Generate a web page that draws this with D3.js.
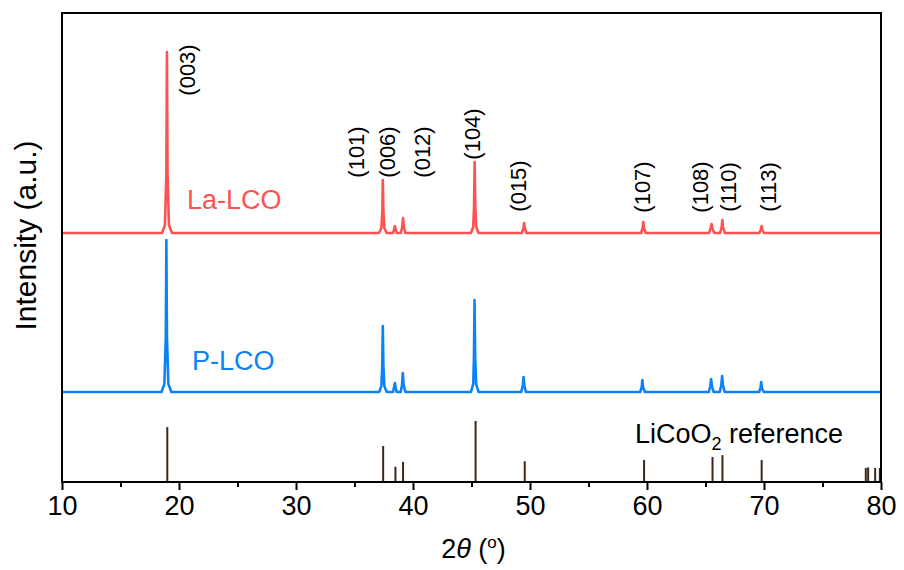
<!DOCTYPE html>
<html>
<head>
<meta charset="utf-8">
<script src="https://cdn.jsdelivr.net/npm/d3@7"></script>
<style>
  html, body { margin: 0; padding: 0; background: #fff; }
  svg { display: block; font-family: "Liberation Sans", Arial, sans-serif; }
</style>
</head>
<body>
<svg id="chart" width="904" height="570"></svg>
<script>
// X-ray diffraction patterns: [2θ (deg), intensity above the pattern's own baseline]
const laLCO = [
  [10,0],
  [18.55,0],[18.8,8],[18.92,60],[18.97,181],[19.02,60],[19.14,8],[19.4,0],
  [37.1,0],[37.3,5],[37.38,22],[37.42,53],[37.47,22],[37.55,5],[37.75,0],
  [38.3,0],[38.45,7],[38.6,0],
  [38.95,0],[39.08,6],[39.15,15],[39.22,6],[39.35,0],
  [44.95,0],[45.15,6],[45.22,28],[45.27,71],[45.32,28],[45.4,6],[45.6,0],
  [49.3,0],[49.45,5],[49.5,10],[49.56,5],[49.7,0],
  [59.5,0],[59.63,5],[59.68,11],[59.74,5],[59.9,0],
  [65.3,0],[65.45,5],[65.52,9],[65.6,4],[65.75,0],
  [66.25,0],[66.38,6],[66.44,13],[66.5,6],[66.65,0],
  [69.6,0],[69.75,4],[69.8,7],[69.86,3],[70.0,0],
  [80,0]
];
const pLCO = [
  [10,0],
  [18.5,0],[18.75,8],[18.87,55],[18.92,152],[18.97,55],[19.09,8],[19.35,0],
  [37.1,0],[37.3,6],[37.37,26],[37.42,66],[37.47,26],[37.55,6],[37.75,0],
  [38.3,0],[38.45,9],[38.6,0],
  [38.95,0],[39.06,7],[39.13,19],[39.2,7],[39.35,0],
  [44.95,0],[45.15,8],[45.21,36],[45.26,92],[45.31,36],[45.4,8],[45.6,0],
  [49.25,0],[49.38,6],[49.45,15],[49.52,6],[49.65,0],
  [59.42,0],[59.55,5],[59.6,12],[59.66,5],[59.82,0],
  [65.28,0],[65.41,6],[65.48,13],[65.56,5],[65.7,0],
  [66.22,0],[66.35,7],[66.42,16],[66.49,7],[66.64,0],
  [69.58,0],[69.7,4],[69.76,10],[69.82,4],[69.98,0],
  [80,0]
];

// LiCoO2 reference pattern: [2θ (deg), relative intensity]
const refPeaks = [
  [19.0,90],[37.45,59],[38.5,25],[39.15,33],[45.35,100],[49.55,34],
  [59.75,36],[65.6,41],[66.45,44],[69.8,36],
  [78.7,23],[78.9,24],[79.5,23],[79.9,23]
];

// Miller index labels: [text, 2θ position of label, label height in a.u.]
const hklLabels = [
  ["(003)", 20.7, 412],
  ["(101)", 35.2, 330],
  ["(006)", 37.8, 330],
  ["(012)", 40.8, 330],
  ["(104)", 45.1, 348],
  ["(015)", 49.0, 296],
  ["(107)", 59.6, 295],
  ["(108)", 64.6, 295],
  ["(110)", 67.0, 295],
  ["(113)", 70.4, 295]
];

const seriesNames = ["La-LCO", "P-LCO"];
const seriesOffsets = [249, 90];
const xTicks = [10, 20, 30, 40, 50, 60, 70, 80];
const xMinorTicks = [15, 25, 35, 45, 55, 65, 75];

const red = "#fd5252";
const blue = "#0b83f7";
const stickColor = "#3b281b";

const margin = { left: 62, right: 23, top: 13, bottom: 88 };
const W = 904, H = 570;
const svg = d3.select("#chart");

const x = d3.scaleLinear().domain([10, 80]).range([margin.left, W - margin.right]);
const y = d3.scaleLinear().domain([0, 469]).range([H - margin.bottom, margin.top]);
const refScale = d3.scaleLinear().domain([0, 100]).range([0, 61]);

svg.append("clipPath").attr("id", "plotClip")
  .append("rect")
  .attr("x", x(10)).attr("y", y(469))
  .attr("width", x(80) - x(10)).attr("height", y(0) - y(469));

const plot = svg.append("g").attr("clip-path", "url(#plotClip)");

// diffraction traces
const traces = [laLCO, pLCO];
const colors = [red, blue];
traces.forEach((pts, i) => {
  const line = d3.line()
    .x(d => x(d[0]))
    .y(d => y(d[1] + seriesOffsets[i]));
  plot.append("path")
    .datum(pts)
    .attr("d", line)
    .attr("fill", "none")
    .attr("stroke", colors[i])
    .attr("stroke-width", 2.6)
    .attr("stroke-linejoin", "round");
});

// reference sticks
plot.selectAll("line.stick")
  .data(refPeaks)
  .join("line")
  .attr("class", "stick")
  .attr("x1", d => x(d[0])).attr("x2", d => x(d[0]))
  .attr("y1", y(0))
  .attr("y2", d => y(0) - refScale(d[1]))
  .attr("stroke", stickColor)
  .attr("stroke-width", 2);

// frame
svg.append("rect")
  .attr("x", x(10)).attr("y", y(469))
  .attr("width", x(80) - x(10)).attr("height", y(0) - y(469))
  .attr("fill", "none").attr("stroke", "#000").attr("stroke-width", 2);

// bottom axis with major and minor ticks
const axisG = svg.append("g").attr("transform", `translate(0,${y(0)})`);
axisG.call(d3.axisBottom(x).tickValues(xTicks).tickSize(8).tickPadding(6).tickFormat(d3.format("d")));
axisG.select(".domain").remove();
axisG.selectAll(".tick line").attr("stroke", "#000").attr("stroke-width", 2);
axisG.selectAll(".tick text")
  .attr("font-size", 27).attr("fill", "#000")
  .attr("font-family", "Liberation Sans, Arial, sans-serif");

const minorG = svg.append("g").attr("transform", `translate(0,${y(0)})`);
minorG.call(d3.axisBottom(x).tickValues(xMinorTicks).tickSize(5).tickFormat(""));
minorG.select(".domain").remove();
minorG.selectAll(".tick line").attr("stroke", "#000").attr("stroke-width", 2);

// axis titles
const xTitle = svg.append("text")
  .attr("x", (x(10) + x(80)) / 2 + 2).attr("y", 558)
  .attr("text-anchor", "middle").attr("font-size", 27).attr("fill", "#000");
xTitle.append("tspan").text("2");
xTitle.append("tspan").attr("font-style", "italic").text("θ");
xTitle.append("tspan").text(" (");
xTitle.append("tspan").attr("font-size", 17).attr("dy", -10).text("o");
xTitle.append("tspan").attr("dy", 10).text(")");

svg.append("text")
  .attr("transform", `translate(36,${(y(0) + y(469)) / 2 - 12}) rotate(-90)`)
  .attr("text-anchor", "middle").attr("font-size", 30).attr("fill", "#000")
  .text("Intensity (a.u.)");

// sample names
svg.append("text").attr("x", 187).attr("y", 209)
  .attr("font-size", 27).attr("fill", red).text(seriesNames[0]);
svg.append("text").attr("x", 192).attr("y", 370)
  .attr("font-size", 27).attr("fill", blue).text(seriesNames[1]);

const refLabel = svg.append("text").attr("x", 635).attr("y", 443)
  .attr("font-size", 27).attr("fill", "#000");
refLabel.append("tspan").text("LiCoO");
refLabel.append("tspan").attr("font-size", 18).attr("dy", 7).text("2");
refLabel.append("tspan").attr("dy", -7).text(" reference");

// Miller index labels
svg.selectAll("text.hkl")
  .data(hklLabels)
  .join("text")
  .attr("class", "hkl")
  .attr("transform", d => `translate(${x(d[1])},${y(d[2])}) rotate(-90)`)
  .attr("text-anchor", "middle")
  .attr("dominant-baseline", "central")
  .attr("font-size", 22)
  .attr("fill", "#000")
  .text(d => d[0]);
</script>
</body>
</html>
